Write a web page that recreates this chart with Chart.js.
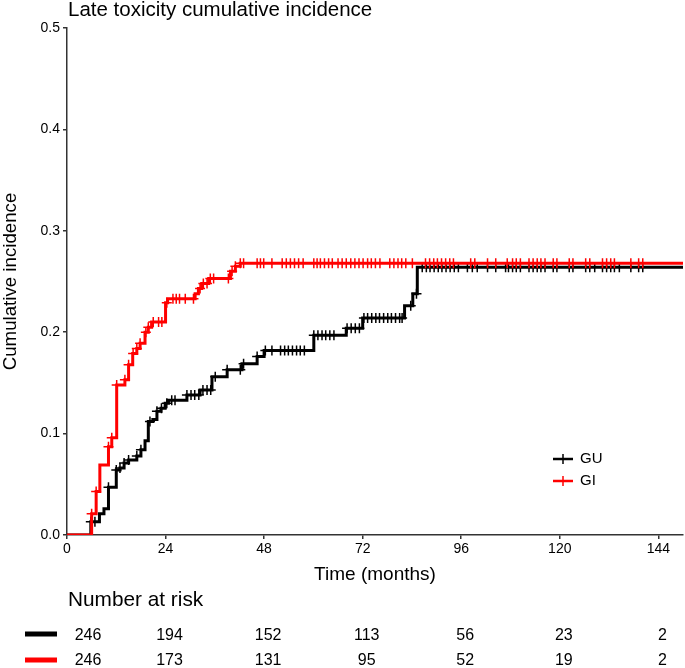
<!DOCTYPE html>
<html>
<head>
<meta charset="utf-8">
<script src="https://cdn.jsdelivr.net/npm/chart.js"></script>
<style>
  html, body { margin: 0; padding: 0; background: #fff; }
</style>
</head>
<body>
<canvas id="myChart" width="685" height="668"></canvas>
<script>
// step points: time (months) and cumulative incidence after that time
var guTimes = [0, 5.8, 7.9, 9.0, 10.1, 12.0, 12.9, 13.9, 15.0, 17.0, 18.0, 19.0, 19.8, 20.9, 21.9, 22.9, 23.9, 24.7, 29.2, 32.4, 35.3, 39.0, 42.6, 46.3, 48.0, 60.1, 68.0, 72.0, 82.2, 84.2, 85.3, 150];
var guInc = [0, 0.013, 0.021, 0.026, 0.047, 0.064, 0.066, 0.071, 0.074, 0.078, 0.084, 0.093, 0.112, 0.114, 0.122, 0.125, 0.130, 0.133, 0.138, 0.143, 0.156, 0.163, 0.169, 0.176, 0.182, 0.197, 0.204, 0.214, 0.226, 0.238, 0.264, 0.264];

var giTimes = [0, 6.0, 7.1, 8.0, 10.1, 10.9, 12.1, 14.1, 15.0, 16.0, 17.0, 17.8, 19.0, 19.8, 20.6, 24.0, 24.5, 31.2, 32.0, 32.8, 34.5, 39.8, 41.0, 42.2, 150];
var giInc = [0, 0.021, 0.043, 0.069, 0.087, 0.096, 0.148, 0.153, 0.168, 0.179, 0.184, 0.189, 0.200, 0.205, 0.210, 0.229, 0.233, 0.238, 0.243, 0.248, 0.253, 0.260, 0.265, 0.268, 0.268];

// censoring times
var guCensor = [5.8, 6.8, 10.1, 12.0, 12.9, 13.9, 15.0, 17.0, 18.0, 20.2, 21.9, 23.0, 24.3, 25.5, 26.3, 29.2, 30.2, 31.1, 32.1, 33.1, 34.1, 35.0, 36.1, 39.0, 42.2, 43.0, 46.3, 48.3, 49.9, 52.0, 53.0, 53.9, 54.9, 55.9, 56.8, 57.8, 60.1, 61.1, 62.1, 63.0, 64.0, 65.0, 68.2, 69.2, 70.2, 71.2, 72.3, 73.2, 74.2, 75.2, 76.1, 77.1, 78.1, 79.0, 80.0, 81.0, 81.6, 83.7, 85.1, 86.5, 87.5, 88.4, 89.4, 90.4, 91.3, 92.3, 93.3, 94.3, 95.3, 97.5, 98.7, 99.9, 102.4, 104.4, 106.8, 107.5, 108.5, 109.4, 110.4, 112.5, 113.5, 114.5, 115.4, 116.4, 118.4, 119.3, 122.3, 123.2, 126.3, 127.3, 128.5, 130.4, 131.4, 132.4, 133.3, 134.5, 137.3, 139.2, 140.2];
var giCensor = [6.0, 7.1, 10.1, 10.9, 12.1, 14.1, 15.0, 16.1, 17.0, 17.8, 19.2, 19.8, 21.0, 22.3, 23.1, 24.3, 25.8, 26.6, 27.4, 28.8, 30.8, 32.4, 33.2, 34.1, 34.9, 35.7, 39.3, 40.2, 41.0, 42.2, 43.0, 46.3, 47.1, 47.9, 49.9, 52.4, 53.4, 54.4, 55.4, 56.4, 57.5, 60.1, 60.9, 61.7, 62.7, 63.7, 64.6, 66.0, 67.0, 68.0, 69.1, 70.1, 71.1, 72.1, 73.2, 74.1, 75.1, 76.2, 78.6, 79.6, 80.6, 81.5, 82.5, 84.1, 87.3, 88.3, 89.3, 90.2, 91.2, 92.2, 93.2, 94.1, 98.3, 99.3, 102.4, 104.4, 107.2, 108.5, 109.4, 110.4, 112.5, 113.5, 114.5, 115.4, 116.4, 118.4, 119.3, 122.3, 123.2, 126.3, 127.3, 130.4, 131.4, 132.4, 133.3, 137.3, 139.2, 140.2];

// number at risk table
var riskTimes = [0, 24, 48, 72, 96, 120, 144];
var guRisk = [246, 194, 152, 113, 56, 23, 2];
var giRisk = [246, 173, 131, 95, 52, 19, 2];

var black = '#000000';
var red = '#ff0000';

function levelAt(times, inc, t) {
    var v = 0;
    for (var i = 0; i < times.length; i++) {
        if (times[i] <= t + 1e-9) v = inc[i];
    }
    return v;
}

function stepData(times, inc) {
    return times.map(function (t, i) { return { x: t, y: inc[i] }; });
}

function censorData(cens, times, inc) {
    return cens.map(function (t) { return { x: t, y: levelAt(times, inc, t) }; });
}

Chart.defaults.font.family = '"Liberation Sans", Arial, Helvetica, sans-serif';
Chart.defaults.color = '#000';

var extras = {
    id: 'extras',
    afterDraw: function (chart) {
        var ctx = chart.ctx;
        var xs = chart.scales.x;
        ctx.save();
        ctx.fillStyle = '#000';
        ctx.textBaseline = 'alphabetic';
        ctx.textAlign = 'left';
        ctx.font = '20.5px "Liberation Sans", Arial, sans-serif';
        ctx.fillText('Late toxicity cumulative incidence', 68, 16);

        // legend
        var items = [['GU', black, 459], ['GI', red, 481]];
        ctx.font = '15px "Liberation Sans", Arial, sans-serif';
        ctx.textBaseline = 'middle';
        items.forEach(function (it) {
            ctx.strokeStyle = it[1];
            ctx.lineWidth = 2.5;
            ctx.beginPath();
            ctx.moveTo(553, it[2]);
            ctx.lineTo(573, it[2]);
            ctx.stroke();
            ctx.lineWidth = 1.5;
            ctx.beginPath();
            ctx.moveTo(563, it[2] - 5);
            ctx.lineTo(563, it[2] + 5);
            ctx.stroke();
            ctx.fillStyle = '#000';
            ctx.fillText(it[0], 580, it[2]);
        });

        // risk table
        ctx.font = '20.8px "Liberation Sans", Arial, sans-serif';
        ctx.textBaseline = 'middle';
        ctx.fillText('Number at risk', 68, 600);
        ctx.font = '16px "Liberation Sans", Arial, sans-serif';
        ctx.textAlign = 'center';
        var rows = [[guRisk, black, 636, 634], [giRisk, red, 661, 660]];
        rows.forEach(function (r) {
            ctx.fillStyle = r[1];
            ctx.fillRect(25, r[3] - 2.5, 32, 5);
            ctx.fillStyle = '#000';
            riskTimes.forEach(function (t, i) {
                var px = xs.getPixelForValue(t) + (i === 0 ? 21 : 4);
                ctx.fillText(String(r[0][i]), px, r[2]);
            });
        });
        ctx.restore();
    }
};

var ctx = document.getElementById('myChart').getContext('2d');
var chart = new Chart(ctx, {
    type: 'line',
    data: {
        datasets: [{
                label: 'GI censored',
                data: censorData(giCensor, giTimes, giInc),
                showLine: false,
                pointStyle: 'cross',
                pointRadius: 5,
                borderColor: red,
                borderWidth: 1.5
            },
            {
                label: 'GI',
                data: stepData(giTimes, giInc),
                stepped: 'before',
                borderColor: red,
                borderWidth: 3,
                pointRadius: 0,
                fill: false
            },
            {
                label: 'GU censored',
                data: censorData(guCensor, guTimes, guInc),
                showLine: false,
                pointStyle: 'cross',
                pointRadius: 5,
                borderColor: black,
                borderWidth: 1.5
            },
            {
                label: 'GU',
                data: stepData(guTimes, guInc),
                stepped: 'before',
                borderColor: black,
                borderWidth: 3,
                pointRadius: 0,
                fill: false
            }
        ]
    },
    options: {
        responsive: false,
        animation: false,
        layout: { autoPadding: false, padding: { top: 28, right: 2, bottom: 79, left: 0 } },
        plugins: { legend: { display: false }, tooltip: { enabled: false } },
        scales: {
            x: {
                type: 'linear',
                min: 0,
                max: 150,
                ticks: { stepSize: 24, includeBounds: false, maxRotation: 0, padding: 2, font: { size: 14 } },
                grid: { drawOnChartArea: false, tickLength: 4, color: '#333', lineWidth: 1.5 },
                border: { color: '#333', width: 1.5 },
                title: { display: true, text: 'Time (months)', font: { size: 19 }, padding: { top: 4, bottom: 3 } },
                afterFit: function (s) { s.height = 54; s.paddingRight = 0; s.paddingLeft = 0; }
            },
            y: {
                min: 0,
                max: 0.5,
                ticks: { stepSize: 0.1, padding: 3, font: { size: 14 }, callback: function (v) { return v.toFixed(1); } },
                grid: { drawOnChartArea: false, tickLength: 4, color: '#333', lineWidth: 1.5 },
                border: { color: '#333', width: 1.5 },
                title: { display: true, text: 'Cumulative incidence', font: { size: 18.7 }, padding: { top: 0, bottom: 0 } },
                afterFit: function (s) { s.width = 67; }
            }
        }
    },
    plugins: [extras]
});
</script>
</body>
</html>
